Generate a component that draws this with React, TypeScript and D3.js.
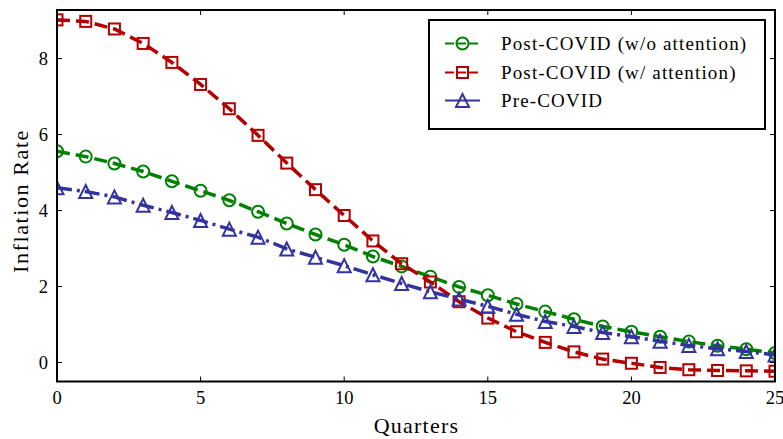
import React from "react";
import * as d3 from "d3";

const quarters = d3.range(0, 26);

const postNoAttention = [
  5.56, 5.42, 5.24, 5.03, 4.77, 4.52, 4.27, 3.97, 3.66, 3.37, 3.1, 2.79, 2.53,
  2.26, 1.99, 1.77, 1.54, 1.34, 1.14, 0.95, 0.81, 0.68, 0.55, 0.44, 0.35, 0.25,
];
const postAttention = [
  9.02, 8.98, 8.78, 8.4, 7.9, 7.32, 6.68, 5.98, 5.25, 4.55, 3.87, 3.2, 2.6,
  2.12, 1.6, 1.17, 0.81, 0.53, 0.28, 0.09, -0.02, -0.13, -0.19, -0.21, -0.22,
  -0.23,
];
const preCovid = [
  4.6, 4.5, 4.36, 4.14, 3.95, 3.74, 3.51, 3.3, 2.99, 2.77, 2.55, 2.31, 2.08,
  1.86, 1.67, 1.48, 1.27, 1.08, 0.95, 0.79, 0.68, 0.56, 0.45, 0.36, 0.29, 0.2,
];

const xTicks = [0, 5, 10, 15, 20, 25];
const yTicks = [0, 2, 4, 6, 8];

const seriesLabels = [
  "Post-COVID (w/o attention)",
  "Post-COVID (w/ attention)",
  "Pre-COVID",
];

type Marker = "circle" | "square" | "triangle";

const series: {
  label: string;
  values: number[];
  color: string;
  dash: string;
  legendDash: string;
  marker: Marker;
}[] = [
  { label: seriesLabels[0], values: postNoAttention, color: "#008000", dash: "13,6", legendDash: "9,3", marker: "circle" },
  { label: seriesLabels[1], values: postAttention, color: "#b20000", dash: "13,6", legendDash: "9,3", marker: "square" },
  { label: seriesLabels[2], values: preCovid, color: "#3333a0", dash: "15,5,3,5", legendDash: "none", marker: "triangle" },
];

const W = 783;
const H = 439;
const left = 57;
const right = 775;
const top = 10;
const bottom = 381.5;

const font = "'Liberation Serif', 'DejaVu Serif', serif";

function MarkerShape({ kind, x, y, color }: { kind: Marker; x: number; y: number; color: string }) {
  const common = { fill: "none", stroke: color, strokeWidth: 2 };
  if (kind === "circle") return <circle cx={x} cy={y} r={6} {...common} />;
  if (kind === "square") return <rect x={x - 5.5} y={y - 5.5} width={11} height={11} {...common} />;
  const r = 6.5;
  return (
    <path
      d={`M${x},${y - r}L${x - r},${y + r}L${x + r},${y + r}Z`}
      {...common}
      strokeLinejoin="miter"
    />
  );
}

export default function App() {
  const x = d3.scaleLinear().domain([0, 25]).range([left, right]);
  const y = d3.scaleLinear().domain([-0.5, 9.28]).range([bottom, top]);
  const line = d3
    .line<number>()
    .x((_, i) => x(quarters[i]))
    .y((d) => y(d));

  const legendX = 429;
  const legendY = 20;
  const legendRows = [43.5, 72.5, 100.5];

  return (
    <svg
      width={W}
      height={H}
      style={{ position: "absolute", left: 0, top: 0, background: "#fff" }}
      fontFamily={font}
    >
      <defs>
        <clipPath id="plot-area">
          <rect x={left} y={top} width={right - left} height={bottom - top} />
        </clipPath>
      </defs>

      <g clipPath="url(#plot-area)">
        {series.map((s) => (
          <g key={s.label}>
            <path
              d={line(s.values) ?? ""}
              fill="none"
              stroke={s.color}
              strokeWidth={3.5}
              strokeDasharray={s.dash}
            />
            {s.values.map((v, i) => (
              <MarkerShape key={i} kind={s.marker} x={x(quarters[i])} y={y(v)} color={s.color} />
            ))}
          </g>
        ))}
      </g>

      {/* frame */}
      <rect x={left} y={top} width={right - left} height={bottom - top} fill="none" stroke="#000" strokeWidth={2} />

      {/* x ticks on bottom and top */}
      {xTicks.map((t) => (
        <g key={`x${t}`}>
          <line x1={x(t)} x2={x(t)} y1={bottom} y2={bottom - 5} stroke="#000" strokeWidth={1} />
          <line x1={x(t)} x2={x(t)} y1={top} y2={top + 5} stroke="#000" strokeWidth={1} />
          <text x={x(t)} y={403.5} textAnchor="middle" fontSize={18.5} fill="#000">
            {t}
          </text>
        </g>
      ))}

      {/* y ticks on left and right */}
      {yTicks.map((t) => (
        <g key={`y${t}`}>
          <line x1={left} x2={left + 5} y1={y(t)} y2={y(t)} stroke="#000" strokeWidth={1} />
          <line x1={right} x2={right - 5} y1={y(t)} y2={y(t)} stroke="#000" strokeWidth={1} />
          <text x={48} y={y(t) + 6.5} textAnchor="end" fontSize={18.5} fill="#000">
            {t}
          </text>
        </g>
      ))}

      <text
        x={(left + right) / 2 + 0.5}
        y={433}
        textAnchor="middle"
        fontSize={22}
        letterSpacing={1.25}
        fill="#000"
      >
        Quarters
      </text>
      <text
        transform="translate(27.5, 201) rotate(-90)"
        textAnchor="middle"
        fontSize={22}
        letterSpacing={1.6}
        fill="#000"
      >
        Inflation Rate
      </text>

      {/* legend */}
      <rect x={legendX} y={legendY} width={336} height={109} fill="#fff" stroke="#000" strokeWidth={2} />
      {series.map((s, i) => (
        <g key={`leg${i}`}>
          <line
            x1={445}
            x2={480}
            y1={legendRows[i]}
            y2={legendRows[i]}
            stroke={s.color}
            strokeWidth={2}
            strokeDasharray={s.legendDash}
          />
          <MarkerShape kind={s.marker} x={462.5} y={legendRows[i]} color={s.color} />
          <text x={501} y={legendRows[i] + 6} fontSize={19} letterSpacing={1.15} fill="#000">
            {s.label}
          </text>
        </g>
      ))}
    </svg>
  );
}
